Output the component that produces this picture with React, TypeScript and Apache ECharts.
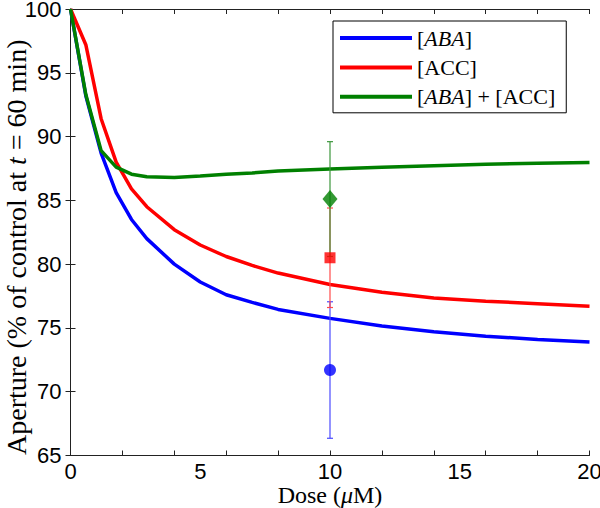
import React, { useEffect, useRef } from "react";
import * as echarts from "echarts";

// Model curves (dose in µM, aperture in % of control)
const dose = [0, 0.59, 1.18, 1.76, 2.35, 2.94, 4, 5, 6, 7, 8, 10, 12, 14, 16, 18, 20];
const abaCurve = [100, 93.2, 88.7, 85.6, 83.5, 82.0, 80.0, 78.6, 77.6, 77.0, 76.45, 75.75, 75.15, 74.7, 74.35, 74.1, 73.9];
const accCurve = [100, 97.2, 91.4, 88.0, 85.9, 84.5, 82.7, 81.5, 80.6, 79.9, 79.3, 78.4, 77.8, 77.35, 77.1, 76.9, 76.7];
const bothCurve = [100, 93.3, 88.9, 87.6, 87.05, 86.85, 86.8, 86.9, 87.05, 87.15, 87.3, 87.45, 87.6, 87.72, 87.83, 87.9, 87.97];

// Experimental points at 10 µM
const expDose = 10;
const expNames = ["[ABA] exp", "[ACC] exp", "[ABA] + [ACC] exp"];
const expMeans = [71.7, 80.5, 85.1];
const expErrors = [5.35, 3.9, 4.5];

const seriesNames = ["[ABA]", "[ACC]", "[ABA] + [ACC]"];
const colors = ["#0000ff", "#ff0000", "#008000"];
const barColors = ["#4a4aff", "#ff4a4a", "#3c963c"];
const expSymbols = ["circle", "rect", "diamond"];
const expSymbolSizes: any[] = [12, 11, [15, 18]];

const xTicks = [0, 2, 4, 6, 8, 10, 12, 14, 16, 18, 20];
const xLabels = [0, 5, 10, 15, 20];

const serif = "Liberation Serif";
const sans = "Liberation Sans";

export default function App() {
  const ref = useRef<HTMLDivElement>(null);
  useEffect(() => {
    if (!ref.current) return;
    const chart = echarts.init(ref.current, null, { renderer: "svg" });
    const curves = [abaCurve, accCurve, bothCurve];

    const lineSeries = curves.map((c, i) => ({
      name: seriesNames[i],
      type: "line",
      data: dose.map((d, j) => [d, c[j]]),
      showSymbol: false,
      symbol: "none",
      lineStyle: { color: colors[i], width: 3.5 },
      itemStyle: { color: colors[i] },
      z: 2,
    }));

    const errSeries = expMeans.map((m, i) => ({
      name: expNames[i] + " err",
      type: "custom",
      data: [[expDose, m - expErrors[i], m + expErrors[i]]],
      renderItem: (params: any, api: any) => {
        const x = api.value(0);
        const lo = api.coord([x, api.value(1)]);
        const hi = api.coord([x, api.value(2)]);
        const hw = 3;
        const st = { stroke: barColors[i], lineWidth: 1.2 };
        return {
          type: "group",
          children: [
            { type: "line", shape: { x1: lo[0], y1: lo[1], x2: hi[0], y2: hi[1] }, style: st },
            { type: "line", shape: { x1: lo[0] - hw, y1: lo[1], x2: lo[0] + hw, y2: lo[1] }, style: st },
            { type: "line", shape: { x1: hi[0] - hw, y1: hi[1], x2: hi[0] + hw, y2: hi[1] }, style: st },
          ],
        };
      },
      z: 3,
    }));

    const markerSeries = expMeans.map((m, i) => ({
      name: expNames[i],
      type: "scatter",
      data: [[expDose, m]],
      symbol: expSymbols[i],
      symbolSize: expSymbolSizes[i],
      itemStyle: { color: colors[i] },
      z: 4,
    }));

    const richLegend = {
      r: { fontFamily: serif, fontSize: 22, color: "#000", lineHeight: 22 },
      i: { fontFamily: serif, fontSize: 22, fontStyle: "italic", color: "#000", lineHeight: 22 },
    };
    const richX = {
      r: { fontFamily: serif, fontSize: 24, color: "#000", lineHeight: 22 },
      i: { fontFamily: serif, fontSize: 24, fontStyle: "italic", color: "#000", lineHeight: 22 },
    };
    const richY = {
      r: { fontFamily: serif, fontSize: 28, color: "#000", lineHeight: 26 },
      i: { fontFamily: serif, fontSize: 28, fontStyle: "italic", color: "#000", lineHeight: 26 },
    };
    const legendText: Record<string, string> = {
      "[ABA]": "{r|[}{i|ABA}{r|]}",
      "[ACC]": "{r|[ACC]}",
      "[ABA] + [ACC]": "{r|[}{i|ABA}{r|] + [ACC]}",
    };

    const axisLineStyle = { color: "#222", width: 1 };

    chart.setOption({
      animation: false,
      backgroundColor: "#fff",
      grid: { left: 70.5, right: 10.5, top: 9, bottom: 52.5, containLabel: false, outerBoundsMode: "none" },
      legend: {
        data: seriesNames,
        orient: "vertical",
        left: 333,
        top: 21,
        backgroundColor: "#fff",
        borderColor: "#000",
        borderWidth: 1,
        padding: [6, 11, 5, 7],
        itemGap: 7.4,
        itemWidth: 72,
        itemHeight: 4,
        icon: "rect",
        formatter: (name: string) => legendText[name] || name,
        textStyle: { fontFamily: serif, fontSize: 22, color: "#000", rich: richLegend },
      },
      xAxis: [
        {
          type: "value",
          min: 0,
          max: 20,
          position: "bottom",
          name: "{r|Dose (}{i|μ}{r|M)}",
          nameLocation: "middle",
          nameGap: 28,
          nameMoveOverlap: false,
          nameTextStyle: { fontFamily: serif, fontSize: 24, color: "#000", rich: richX },
          axisLine: { show: true, lineStyle: axisLineStyle },
          axisTick: { show: true, inside: true, length: 5, customValues: xTicks, lineStyle: axisLineStyle },
          axisLabel: {
            show: true,
            customValues: xLabels,
            margin: 7,
            fontFamily: sans,
            fontSize: 22,
            lineHeight: 17,
            color: "#000",
          },
          splitLine: { show: false },
        },
        {
          type: "value",
          min: 0,
          max: 20,
          position: "top",
          axisLine: { show: true, lineStyle: axisLineStyle },
          axisTick: { show: true, inside: true, length: 5, customValues: xTicks, lineStyle: axisLineStyle },
          axisLabel: { show: false },
          splitLine: { show: false },
        },
      ],
      yAxis: [
        {
          type: "value",
          min: 65,
          max: 100,
          interval: 5,
          position: "left",
          name: "{r|Aperture (% of control at }{i|t}{r| = 60 min)}",
          nameLocation: "middle",
          nameGap: 41,
          nameMoveOverlap: false,
          nameTextStyle: { fontFamily: serif, fontSize: 28, color: "#000", rich: richY, padding: [0, 30, 0, 0] },
          axisLine: { show: true, lineStyle: axisLineStyle },
          axisTick: { show: true, inside: true, length: 5, lineStyle: axisLineStyle },
          axisLabel: { margin: 9, fontFamily: sans, fontSize: 22, lineHeight: 17, color: "#000" },
          splitLine: { show: false },
        },
        {
          type: "value",
          min: 65,
          max: 100,
          interval: 5,
          position: "right",
          axisLine: { show: true, lineStyle: axisLineStyle },
          axisTick: { show: true, inside: true, length: 5, lineStyle: axisLineStyle },
          axisLabel: { show: false },
          splitLine: { show: false },
        },
      ],
      series: [...lineSeries, ...errSeries, ...markerSeries],
    });
    return () => chart.dispose();
  }, []);
  return <div ref={ref} style={{ width: 600, height: 508, position: "absolute", left: 0, top: 0 }} />;
}
